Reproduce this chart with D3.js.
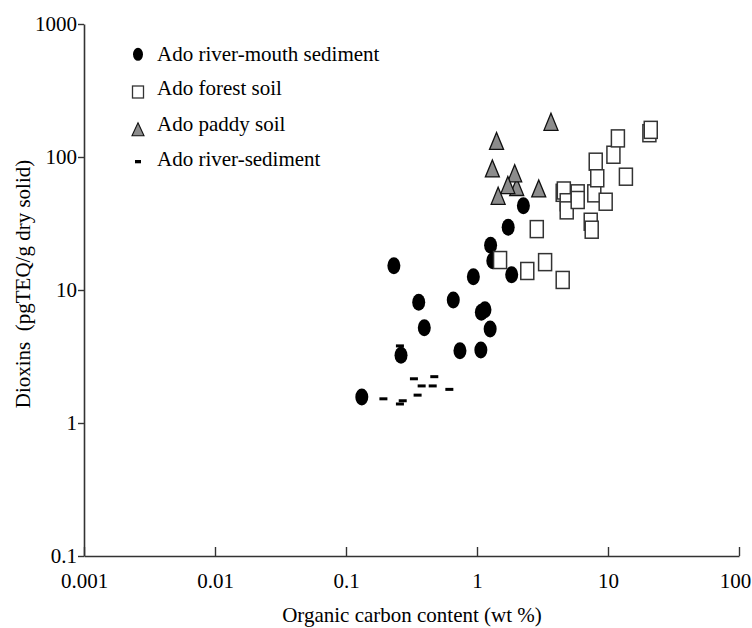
<!DOCTYPE html>
<html><head><meta charset="utf-8">
<script src="https://cdn.jsdelivr.net/npm/d3@7"></script>
<style>
body{margin:0;background:#fff;}
svg{display:block;font-family:"Liberation Serif","Times New Roman",serif;}
</style></head>
<body><svg id="c" width="752" height="628"></svg>
<script>
// Data (organic carbon wt %, dioxins pgTEQ/g)
const seriesNames = ["Ado river-mouth sediment","Ado forest soil","Ado paddy soil","Ado river-sediment"];
const mouthX = [0.132,0.232,0.359,0.396,0.263,0.659,0.938,0.741,1.07,1.27,1.32,1.84,1.73,2.26,1.15,1.08,1.26];
const mouthY = [1.57,15.2,8.08,5.21,3.23,8.41,12.6,3.5,3.54,21.7,16.6,13.0,29.6,43.0,7.1,6.8,5.09];
const forestX = [1.50,2.42,2.86,3.31,4.51,4.51,4.60,4.84,4.84,5.87,5.87,7.86,9.6,7.38,7.51,8.06,8.28,11.0,11.9,13.7,20.7,21.2];
const forestY = [16.8,13.9,28.7,16.2,11.9,53.8,56,45.7,39.7,53.3,47.5,53.3,46.1,32.6,28.4,92.2,69.2,104,138,71.1,151,160];
const paddyX = [3.67,1.41,1.31,2.01,1.94,1.72,1.45,2.96];
const paddyY = [184,132,82,59.5,75.4,61.5,51.1,58];
const riverX = [0.193,0.271,0.258,0.330,0.378,0.459,0.472,0.352,0.615,0.258];
const riverY = [1.52,1.47,1.39,2.15,1.90,1.90,2.23,1.62,1.79,3.8];
const xTicks = [0.001,0.01,0.1,1,10,100];
const xTickLabels = ["0.001","0.01","0.1","1","10","100"];
const yTicks = [0.1,1,10,100,1000];
const yTickLabels = ["0.1","1","10","100","1000"];
const xTitle = "Organic carbon content (wt %)";
const yTitle = "Dioxins\u00a0\u00a0(pgTEQ/g dry solid)";

const svg = d3.select("#c");
const L = 84, R = 739, T = 24, B = 556;
const x = d3.scaleLog().domain([0.001,100]).range([L,R]);
const y = d3.scaleLog().domain([0.1,1000]).range([B,T]);
const axisColor = "#333";
const FS = "21px";

// axes
const gx = svg.append("g").attr("transform",`translate(0,${B})`)
  .call(d3.axisBottom(x).tickValues(xTicks).tickFormat((d,i)=>xTickLabels[i]).tickSize(-9).tickSizeOuter(0).tickPadding(17));
const gy = svg.append("g").attr("transform",`translate(${L},0)`)
  .call(d3.axisLeft(y).tickValues(yTicks).tickFormat((d,i)=>yTickLabels[i]).tickSize(6).tickSizeOuter(0).tickPadding(1));
[gx,gy].forEach(g=>{
  g.select(".domain").attr("stroke",axisColor).attr("stroke-width",1.6);
  g.selectAll(".tick line").attr("stroke",axisColor).attr("stroke-width",1.4);
  g.selectAll(".tick text").attr("fill","#000").style("font-size",FS).style("font-family",'"Liberation Serif",serif');
});
gx.selectAll(".tick text").attr("dy","0.71em");
gx.selectAll(".tick").filter(d=>d===100).select("text").attr("dx",-4);
gy.selectAll(".tick text").attr("dy","0.33em");

// titles
svg.append("text").attr("x",412).attr("y",622).attr("text-anchor","middle")
  .style("font-size",FS).text(xTitle);
svg.append("text").attr("transform",`translate(30,284) rotate(-90)`).attr("text-anchor","middle")
  .style("font-size",FS).text(yTitle);

const zip = (a,b)=>a.map((v,i)=>[v,b[i]]);
const g = svg.append("g");
// river-sediment dashes
g.selectAll("rect.rv").data(zip(riverX,riverY)).join("rect").attr("class","rv")
  .attr("x",d=>x(d[0])-4).attr("y",d=>y(d[1])-1.5).attr("width",8).attr("height",3).attr("fill","#000");
// river-mouth circles
g.selectAll("ellipse").data(zip(mouthX,mouthY)).join("ellipse")
  .attr("cx",d=>x(d[0])).attr("cy",d=>y(d[1])).attr("rx",6.5).attr("ry",8.5).attr("fill","#000");
// paddy triangles
const tri = (cx,cy,w,h)=>`M${cx},${cy-h/2}L${cx+w/2},${cy+h/2}L${cx-w/2},${cy+h/2}Z`;
g.selectAll("path.pd").data(zip(paddyX,paddyY)).join("path").attr("class","pd")
  .attr("d",d=>tri(x(d[0]),y(d[1]),14,17)).attr("fill","#8c8c8c").attr("stroke","#111").attr("stroke-width",1.3);
// forest squares
g.selectAll("rect.fs").data(zip(forestX,forestY)).join("rect").attr("class","fs")
  .attr("x",d=>x(d[0])-6.5).attr("y",d=>y(d[1])-8.5).attr("width",13).attr("height",17)
  .attr("fill","#fff").attr("stroke","#333").attr("stroke-width",1.5);

// legend
const lg = svg.append("g");
const base = [60.5,95,131,166];
const sx = 138;
lg.append("ellipse").attr("cx",sx).attr("cy",54.3).attr("rx",5).attr("ry",6.5).attr("fill","#000");
lg.append("rect").attr("x",sx-5.5).attr("y",86).attr("width",11).attr("height",12).attr("fill","#fff").attr("stroke","#333").attr("stroke-width",1.3);
lg.append("path").attr("d",tri(sx,129.3,12,13)).attr("fill","#8c8c8c").attr("stroke","#111").attr("stroke-width",1.1);
lg.append("rect").attr("x",sx-3).attr("y",160).attr("width",6).attr("height",3.3).attr("fill","#000");
lg.selectAll("text").data(seriesNames).join("text").attr("x",157).attr("y",(d,i)=>base[i])
  .style("font-size",FS).text(d=>d);
</script></body></html>
